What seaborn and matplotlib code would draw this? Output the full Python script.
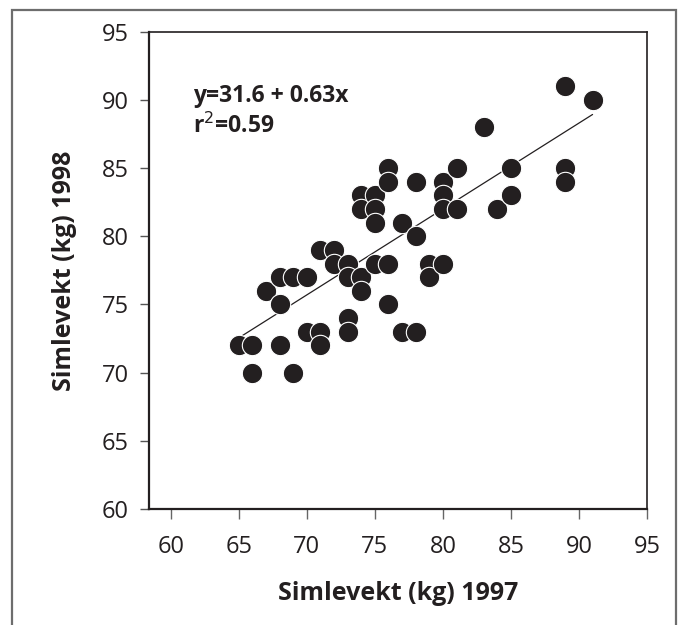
import numpy as np
import pandas as pd
import matplotlib
matplotlib.use("Agg")
import matplotlib.pyplot as plt
import seaborn as sns
from matplotlib.patches import Rectangle

# Data
weight_1997 = [65, 66, 66, 67, 68, 68, 68, 69, 69, 70, 70, 71, 71, 71, 72, 72,
               73, 73, 73, 73, 74, 74, 74, 74, 75, 75, 75, 75, 76, 76, 76, 76,
               77, 77, 78, 78, 78, 79, 79, 80, 80, 80, 80, 81, 81, 83, 84, 85,
               85, 89, 89, 89, 91]
weight_1998 = [72, 72, 70, 76, 77, 75, 72, 77, 70, 77, 73, 79, 73, 72, 79, 78,
               78, 77, 74, 73, 77, 76, 83, 82, 83, 82, 81, 78, 85, 84, 78, 75,
               81, 73, 84, 80, 73, 78, 77, 84, 83, 82, 78, 85, 82, 88, 82, 85,
               83, 91, 85, 84, 90]
intercept = 31.6
slope = 0.63
r_squared = 0.59
tick_values = [60, 65, 70, 75, 80, 85, 90, 95]

df = pd.DataFrame({"x": weight_1997, "y": weight_1998})
line_x = np.array([min(weight_1997), max(weight_1997)])
line_df = pd.DataFrame({"x": line_x, "y": intercept + slope * line_x})

sns.set_style("white")
plt.rcParams["font.family"] = ["Open Sans", "DejaVu Sans"]

W, H = 682, 625
fig = plt.figure(figsize=(W / 100, H / 100), dpi=100)
ax = fig.add_axes([149 / W, 1 - 509 / H, (647 - 149) / W, (509 - 31.7) / H])

sns.lineplot(data=line_df, x="x", y="y", ax=ax, color="#231f20", lw=0.9, zorder=1)
sns.scatterplot(data=df, x="x", y="y", ax=ax, s=215, color="#231f20",
                edgecolor="white", linewidth=0.8, zorder=2, legend=False)

ax.set_xlim(58.4, 95)
ax.set_ylim(60, 95)
ax.set_xticks(tick_values)
ax.set_yticks(tick_values)
ax.set_xticklabels([str(v) for v in tick_values])
ax.set_yticklabels([str(v) for v in tick_values])

for side in ["left", "bottom", "top", "right"]:
    ax.spines[side].set_visible(True)
    ax.spines[side].set_color("#231f20")
ax.spines["left"].set_linewidth(1.6)
ax.spines["bottom"].set_linewidth(1.6)
ax.spines["top"].set_linewidth(1.2)
ax.spines["right"].set_linewidth(1.2)

ax.tick_params(axis="y", left=True, direction="out", length=6.5, width=1,
               color="#555555", labelsize=17, labelcolor="#231f20", pad=8)
ax.tick_params(axis="x", bottom=True, direction="out", length=7.5, width=1,
               color="#666666", labelsize=17, labelcolor="#231f20", pad=11)

ax.set_xlabel("Simlevekt (kg) 1997", fontsize=18, fontweight="bold",
              color="#231f20", labelpad=16)
ax.set_ylabel("Simlevekt (kg) 1998", fontsize=18, fontweight="bold",
              color="#231f20", labelpad=18)

ax.text(61.6, 89.85, f"y={intercept} + {slope}x", fontsize=16.5,
        fontweight="bold", color="#231f20", va="baseline", ha="left")
ax.text(61.6, 87.6, f"r$^2$={r_squared}", fontsize=16.5,
        fontweight="bold", color="#231f20", va="baseline", ha="left")

fig.patches.append(Rectangle((12 / W, -0.1), (676 - 12) / W, (H - 10) / H + 0.1,
                             transform=fig.transFigure, fill=False,
                             edgecolor="#6d6d6d", linewidth=1.6))

fig.savefig("out.png", dpi=100, facecolor="white")
